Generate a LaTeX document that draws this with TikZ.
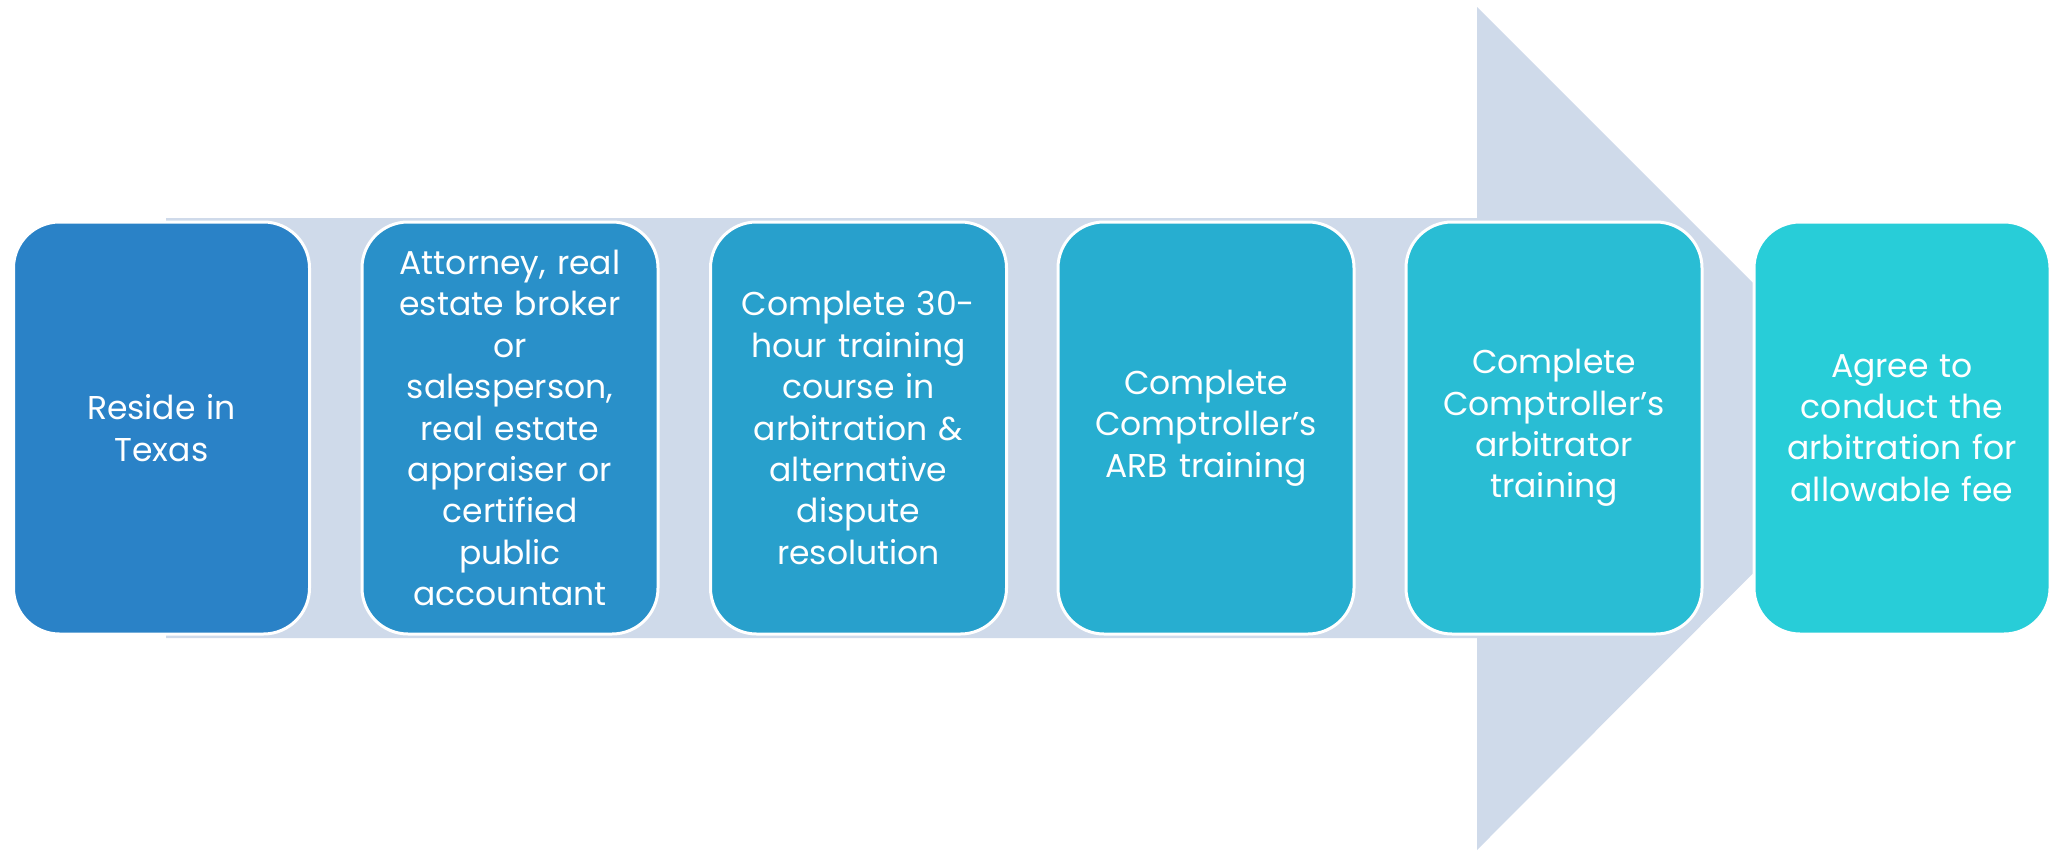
\documentclass[tikz,border=0pt]{standalone}
\usepackage{fontspec}
\setmainfont{Poppins}
\definecolor{arrowc}{HTML}{CFDAEA}
\definecolor{cA}{HTML}{2A82C7}
\definecolor{cB}{HTML}{2990C9}
\definecolor{cC}{HTML}{28A0CC}
\definecolor{cD}{HTML}{27AED0}
\definecolor{cE}{HTML}{29BDD4}
\definecolor{cF}{HTML}{28CDD8}
\begin{document}
\begin{tikzpicture}[x=0.5pt,y=-0.5pt,
  stepbox/.style={draw=white, line width=1.5pt, rounded corners=23pt,
    minimum width=148pt, minimum height=206pt, inner sep=0pt,
    text=white, align=center, text width=144pt,
    font=\fontsize{16.5}{20.7}\selectfont}]
\useasboundingbox (0,0) rectangle (2050,851);
\fill[arrowc] (166,218) -- (1477,218) -- (1477,7) -- (1898,428) -- (1477,850) -- (1477,638) -- (166,638) -- cycle;
\node[stepbox, fill=cA] (s1) at (161.5,428) {Reside in\\Texas};
\node[stepbox, fill=cB] (s2) at (510,428) {Attorney, real\\estate broker\\or\\salesperson,\\real estate\\appraiser or\\certified\\public\\accountant};
\node[stepbox, fill=cC] (s3) at (858.5,428) {Complete 30-\\hour training\\course in\\arbitration \&\\alternative\\dispute\\resolution};
\node[stepbox, fill=cD] (s4) at (1206,428) {Complete\\Comptroller’s\\ARB training};
\node[stepbox, fill=cE] (s5) at (1554,428) {Complete\\Comptroller’s\\arbitrator\\training};
\node[stepbox, fill=cF] (s6) at (1902,428) {Agree to\\conduct the\\arbitration for\\allowable fee};
\end{tikzpicture}
\end{document}
